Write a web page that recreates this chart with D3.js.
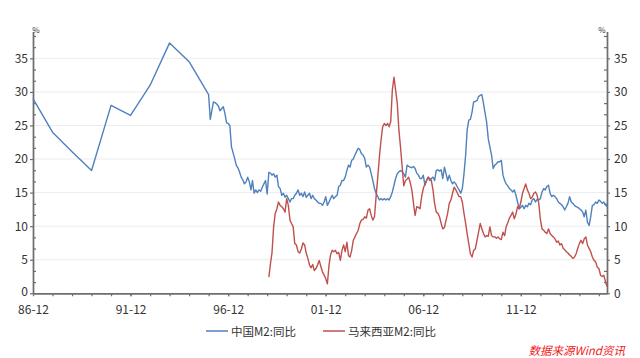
<!DOCTYPE html>
<html><head><meta charset="utf-8">
<script src="https://cdn.jsdelivr.net/npm/d3@7"></script>
<style>
body{margin:0;background:#fff}
text{font-family:"Noto Sans CJK SC","Noto Sans",sans-serif}
</style>
</head><body>
<svg id="chart" width="640" height="358"></svg>
<script>
// ---- data ----
const chinaAnnualYears = [1986,1987,1988,1989,1990,1991,1992,1993,1994,1995]; // December values
const chinaAnnual = [29.0,24.0,21.1,18.3,28.0,26.5,31.0,37.3,34.5,29.6];
const chinaMonthlyStart = [1996,1]; // year, month
const chinaMonthly = [
25.9,27.3,28.5,28.4,28.2,27.9,27.2,27.5,27.8,26.8,25.4,25.3,
25.0,21.8,21.0,20.1,19.1,18.7,18.1,17.3,16.9,16.3,16.6,17.3,
16.6,15.4,16.8,14.9,15.4,15.0,15.4,15.2,15.8,16.3,16.8,14.8,
18.0,17.9,17.6,17.8,17.3,17.6,15.9,15.6,14.6,14.9,14.3,14.6,
14.1,13.6,14.1,14.1,14.6,14.9,15.4,14.6,14.9,14.4,15.1,14.3,
14.6,14.9,14.1,14.6,14.1,13.9,13.6,13.4,13.4,13.1,13.6,14.4,
13.1,13.6,14.1,14.6,14.1,14.4,14.6,15.9,16.1,16.8,16.8,17.3,
18.3,19.1,18.8,19.8,20.0,20.6,21.1,21.6,21.4,20.8,20.6,20.1,
18.8,19.1,18.8,17.8,16.8,15.6,14.9,14.4,13.9,14.1,13.9,14.1,
13.9,14.1,13.9,14.4,15.1,16.1,17.1,17.8,18.1,18.3,18.1,17.8,
17.3,19.1,18.9,18.8,18.7,18.9,18.6,17.9,17.6,17.1,17.1,17.6,
16.1,16.8,17.3,16.8,17.1,17.3,16.8,18.3,18.4,18.2,18.4,17.1,
18.8,17.8,16.8,17.6,16.8,16.3,16.6,16.3,15.8,15.4,14.9,15.6,
17.8,20.6,24.3,25.8,25.9,27.0,28.5,28.6,28.7,29.3,29.5,29.6,
28.3,26.8,25.5,23.0,21.8,20.6,18.6,19.1,19.3,19.6,19.6,19.8,
17.6,16.8,16.3,16.0,15.6,15.4,15.1,15.4,14.6,13.6,12.6,12.8,
13.1,12.6,13.1,12.9,13.4,13.2,13.9,14.1,13.6,14.0,13.9,14.1,
15.1,15.6,15.4,15.9,16.1,14.9,14.4,14.6,14.4,14.1,13.6,13.4,
13.2,12.9,12.4,12.9,13.4,14.4,13.6,13.4,13.1,12.9,12.8,12.6,
12.4,12.1,11.4,12.4,10.6,10.1,11.4,13.1,13.2,13.6,13.4,13.9,
13.7,13.4,13.6,13.2,12.9
];
const malaysiaStart = [1999,1];
const malaysiaMonthly = [
2.4,4.4,6.0,9.9,11.9,12.6,13.6,13.1,12.9,12.6,12.1,14.1,
13.1,10.9,10.4,9.9,7.4,7.2,6.2,6.0,6.6,7.5,7.2,6.0,
5.2,4.2,3.8,4.3,3.4,3.7,4.2,4.9,4.0,3.2,2.7,2.2,
1.4,4.2,5.7,6.4,6.2,6.4,5.9,6.1,4.9,6.4,7.2,6.2,
7.6,5.6,5.4,6.4,7.9,8.4,8.9,9.4,10.4,10.9,11.0,11.4,
11.2,12.4,12.6,11.6,10.9,11.4,14.4,17.3,20.3,22.8,24.8,25.3,
25.0,25.3,24.8,25.6,30.3,32.2,30.3,28.3,24.3,21.8,18.8,16.0,
16.8,17.0,17.3,16.5,15.4,13.4,11.6,12.9,12.8,12.6,14.4,15.6,
16.3,16.8,17.3,17.1,16.8,15.4,13.4,12.1,11.9,11.4,10.4,9.6,
9.8,10.9,11.9,13.4,13.9,14.9,15.8,15.4,14.9,14.4,14.4,13.6,
11.9,10.4,8.9,7.4,5.9,5.4,6.4,6.6,7.9,9.1,10.4,9.6,
8.9,8.4,8.6,8.5,9.9,8.6,8.4,8.4,8.2,8.4,8.1,8.0,
9.1,8.6,9.9,10.5,11.2,11.6,12.1,11.1,11.8,12.9,12.6,13.6,
14.9,15.6,16.3,15.4,14.9,14.1,14.3,14.9,15.1,14.6,13.4,11.0,
9.6,9.4,9.1,8.9,9.6,8.9,8.6,8.4,8.1,7.6,7.8,7.2,
7.4,6.7,6.5,6.2,6.0,5.7,5.5,5.2,5.4,5.9,6.7,7.4,
7.9,7.4,8.1,8.4,7.2,6.7,6.2,5.4,4.9,4.7,3.9,3.7,
2.7,2.5,2.7,1.8,1.0
];
const yMajorTicks = [0,5,10,15,20,25,30,35];
const xMajorTickYears = [1986,1991,1996,2001,2006,2011];
const seriesNames = ["中国M2:同比","马来西亚M2:同比"];
const seriesColors = ["#4F81BD","#C0504D"];
const sourceText = "数据来源Wind资讯";

// ---- build series ----
const chinaSeries = chinaAnnualYears.map((yr,i)=>({date:new Date(yr,11,1), v:chinaAnnual[i]}))
  .concat(chinaMonthly.map((v,i)=>({date:new Date(chinaMonthlyStart[0], chinaMonthlyStart[1]-1+i, 1), v})));
const malaysiaSeries = malaysiaMonthly.map((v,i)=>({date:new Date(malaysiaStart[0], malaysiaStart[1]-1+i, 1), v}));
const lastDate = chinaSeries[chinaSeries.length-1].date;

const svg = d3.select("#chart");
const L = 33, R = 607, B = 293.3, T = 31.5;
const x = d3.scaleTime().domain([new Date(1986,11,1), lastDate]).range([L,R]);
const y = d3.scaleLinear().domain([0,39]).range([B,T]);
const axisColor = "#6e6e6e", labelColor = "#333";

// grid
svg.append("g").selectAll("line").data(yMajorTicks.filter(d=>d>0)).join("line")
  .attr("x1",L).attr("x2",R).attr("y1",d=>y(d)).attr("y2",d=>y(d))
  .attr("stroke","#ececec").attr("stroke-width",1);

function styleAxis(g){
  g.select(".domain").attr("stroke",axisColor).attr("stroke-width",1.4);
  g.selectAll(".tick line").attr("stroke",axisColor).attr("stroke-width",1.2);
  g.selectAll("text").attr("fill",labelColor).attr("font-size","12px")
   .attr("font-family",'"Noto Sans CJK SC","Noto Sans",sans-serif');
}
const minorY = d3.range(0,39.01,5/3).filter(d=>Math.abs(d/5-Math.round(d/5))>1e-6);

// left axis
svg.append("g").attr("transform",`translate(${L},0)`)
  .call(d3.axisLeft(y).tickValues(yMajorTicks).tickSize(3).tickPadding(2).tickSizeOuter(0))
  .call(styleAxis)
  .call(g=>g.selectAll(".tick text").filter(d=>d===0).attr("dy","0.22em"));
svg.append("g").attr("transform",`translate(${L},0)`)
  .call(d3.axisRight(y).tickValues(minorY).tickSize(3).tickFormat("").tickSizeOuter(0))
  .call(styleAxis);
// right axis
svg.append("g").attr("transform",`translate(${R},0)`)
  .call(d3.axisRight(y).tickValues(yMajorTicks).tickSize(3).tickPadding(4).tickSizeOuter(0))
  .call(styleAxis);
svg.append("g").attr("transform",`translate(${R},0)`)
  .call(d3.axisLeft(y).tickValues(minorY).tickSize(3).tickFormat("").tickSizeOuter(0))
  .call(styleAxis);
// bottom axis
const fmt = d3.timeFormat("%y-%m");
svg.append("g").attr("transform",`translate(0,${B})`)
  .call(d3.axisBottom(x).tickValues(d3.range(1987,2016).map(yr=>new Date(yr,11,1))).tickSize(3).tickFormat("").tickSizeOuter(0))
  .call(styleAxis);
svg.append("g").attr("transform",`translate(0,${B})`)
  .call(d3.axisBottom(x).tickValues(xMajorTickYears.map(yr=>new Date(yr,11,1))).tickSize(3).tickPadding(9).tickFormat(fmt).tickSizeOuter(0))
  .call(styleAxis);

// % units
svg.append("text").attr("x",L+3).attr("y",T+1).attr("text-anchor","middle")
  .attr("font-size","8px").attr("fill",labelColor).text("%");
svg.append("text").attr("x",R-5).attr("y",T+1).attr("text-anchor","middle")
  .attr("font-size","8px").attr("fill",labelColor).text("%");

// lines
const line = d3.line().x(d=>x(d.date)).y(d=>y(d.v));
[chinaSeries, malaysiaSeries].forEach((s,i)=>{
  svg.append("path").datum(s).attr("d",line).attr("fill","none")
    .attr("stroke",seriesColors[i]).attr("stroke-width",1.4).attr("stroke-linejoin","round");
});

// legend
const legendItems = [{x:206, name:seriesNames[0], c:seriesColors[0]},{x:323, name:seriesNames[1], c:seriesColors[1]}];
legendItems.forEach(it=>{
  svg.append("line").attr("x1",it.x).attr("x2",it.x+22).attr("y1",331).attr("y2",331)
    .attr("stroke",it.c).attr("stroke-width",1.5);
  svg.append("text").attr("x",it.x+25).attr("y",335.5).attr("font-size","11.5px")
    .attr("fill",labelColor).text(it.name);
});
// source
svg.append("text").attr("x",625).attr("y",354.5).attr("text-anchor","end")
  .attr("font-size","11.5px").attr("font-style","italic").attr("fill","#ee1c1c").text(sourceText);
</script>
</body></html>
